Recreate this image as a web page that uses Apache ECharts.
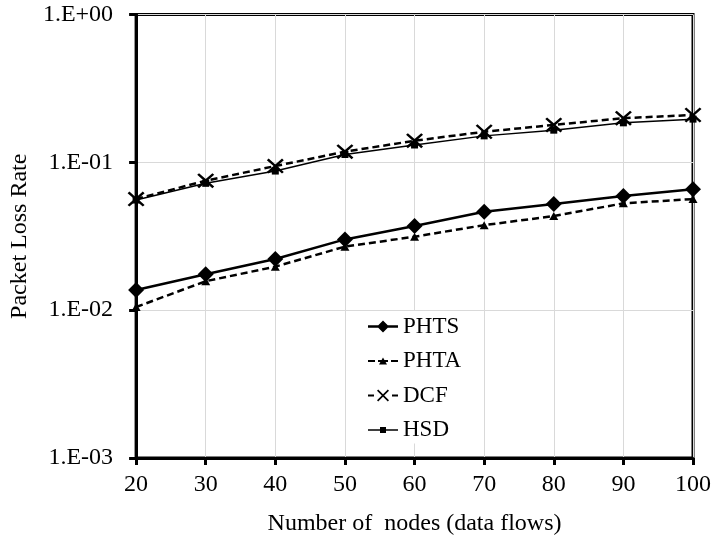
<!DOCTYPE html>
<html>
<head>
<meta charset="utf-8">
<script src="https://cdn.jsdelivr.net/npm/echarts@6/dist/echarts.min.js"></script>
<style>
  html, body { margin: 0; padding: 0; background: #fff; }
  #chart { width: 717px; height: 548px; }
</style>
</head>
<body>
<div id="chart"></div>
<script>
// Number of nodes (data flows)
const nodes = [20, 30, 40, 50, 60, 70, 80, 90, 100];

// Packet loss rate per scheme
const phts = [0.0137, 0.0175, 0.0222, 0.0301, 0.0371, 0.0463, 0.0522, 0.0591, 0.0657];
const phta = [0.0105, 0.0157, 0.0197, 0.0269, 0.0314, 0.0376, 0.0433, 0.0528, 0.0564];
const dcf  = [0.0564, 0.0751, 0.0944, 0.118, 0.140, 0.161, 0.179, 0.199, 0.209];
const hsd  = [0.0556, 0.0721, 0.0873, 0.113, 0.131, 0.151, 0.165, 0.185, 0.196];

// Y tick labels (scientific notation, spreadsheet style)
const yTickValues = [0.001, 0.01, 0.1, 1];
const yTickLabels = ['1.E-03', '1.E-02', '1.E-01', '1.E+00'];

const FONT = '"Liberation Serif", "Times New Roman", serif';
const FS = 24;

// Marker shapes
const crossSymbol = 'path://M0,1.5 L1.5,0 L7,5.5 L12.5,0 L14,1.5 L8.5,7 L14,12.5 L12.5,14 L7,8.5 L1.5,14 L0,12.5 L5.5,7 Z';

// Legend icons: short line sample with the series marker in the middle
const iconPHTS = 'path://M0,5.75 L30,5.75 L30,8.25 L0,8.25 Z M15,1 L21,7 L15,13 L9,7 Z';
const iconPHTA = 'path://M0,5.9 L7,5.9 L7,8.1 L0,8.1 Z M10,5.9 L20,5.9 L20,8.1 L10,8.1 Z M23,5.9 L30,5.9 L30,8.1 L23,8.1 Z M15,3.5 L19,10.5 L11,10.5 Z';
const iconDCF = 'path://M0,5.9 L6,5.9 L6,8.1 L0,8.1 Z M24,5.9 L30,5.9 L30,8.1 L24,8.1 Z M9,2.2 L10.2,1 L15,5.8 L19.8,1 L21,2.2 L16.2,7 L21,11.8 L19.8,13 L15,8.2 L10.2,13 L9,11.8 L13.8,7 Z';
const iconHSD = 'path://M0,6.25 L30,6.25 L30,7.75 L0,7.75 Z M12,4 L18,4 L18,10 L12,10 Z';

const pairs = arr => nodes.map((n, i) => [n, arr[i]]);

const chart = echarts.init(document.getElementById('chart'), null, { renderer: 'canvas' });

chart.setOption({
  animation: false,
  backgroundColor: '#fff',
  textStyle: { fontFamily: FONT, color: '#000' },
  grid: {
    left: 134.5, right: 24, top: 14.5, bottom: 90,
    show: true, borderColor: '#000', borderWidth: 3, backgroundColor: 'transparent'
  },
  legend: {
    orient: 'vertical',
    left: 364, top: 311,
    padding: [4, 8, 2, 4],
    backgroundColor: '#fff',
    itemWidth: 30, itemHeight: 14, itemGap: 11.5,
    symbolKeepAspect: true,
    textStyle: { fontFamily: FONT, fontSize: 23, color: '#000', lineHeight: 22 },
    itemStyle: { color: '#000', borderWidth: 0 },
    data: [
      { name: 'PHTS', icon: iconPHTS },
      { name: 'PHTA', icon: iconPHTA },
      { name: 'DCF', icon: iconDCF },
      { name: 'HSD', icon: iconHSD }
    ]
  },
  xAxis: {
    type: 'value',
    min: 20, max: 100, interval: 10,
    name: 'Number of  nodes (data flows)',
    nameLocation: 'middle', nameGap: 54,
    nameTextStyle: { fontFamily: FONT, fontSize: FS, color: '#000' },
    axisLine: { show: true, lineStyle: { color: '#000', width: 3 } },
    axisTick: { show: true, length: 7, lineStyle: { color: '#000', width: 3 } },
    axisLabel: { margin: 15, fontFamily: FONT, fontSize: FS, color: '#000' },
    splitLine: { show: true, lineStyle: { color: '#d9d9d9', width: 1 } }
  },
  yAxis: {
    type: 'log', logBase: 10,
    min: 0.001, max: 1,
    name: 'Packet Loss Rate',
    nameLocation: 'middle', nameGap: 98,
    nameTextStyle: { fontFamily: FONT, fontSize: FS, color: '#000' },
    axisLine: { show: true, lineStyle: { color: '#000', width: 3 } },
    axisTick: { show: true, length: 7, lineStyle: { color: '#000', width: 3 } },
    axisLabel: {
      margin: 23, fontFamily: FONT, fontSize: FS, color: '#000',
      formatter: v => {
        const i = yTickValues.findIndex(t => Math.abs(Math.log10(t) - Math.log10(v)) < 1e-6);
        return i >= 0 ? yTickLabels[i] : '';
      }
    },
    splitLine: { show: true, lineStyle: { color: '#d9d9d9', width: 1 } }
  },
  series: [
    {
      name: 'PHTS', type: 'line', data: pairs(phts),
      symbol: 'diamond', symbolSize: [16, 16],
      lineStyle: { color: '#000', width: 2.5, type: 'solid' },
      itemStyle: { color: '#000' }, z: 4
    },
    {
      name: 'PHTA', type: 'line', data: pairs(phta),
      symbol: 'triangle', symbolSize: [9, 8],
      lineStyle: { color: '#000', width: 2.5, type: [7, 4] },
      itemStyle: { color: '#000' }, z: 3
    },
    {
      name: 'DCF', type: 'line', data: pairs(dcf),
      symbol: crossSymbol, symbolSize: [17, 15],
      lineStyle: { color: '#000', width: 2.5, type: [7, 4] },
      itemStyle: { color: '#000' }, z: 3
    },
    {
      name: 'HSD', type: 'line', data: pairs(hsd),
      symbol: 'rect', symbolSize: 7,
      lineStyle: { color: '#000', width: 1.5, type: 'solid' },
      itemStyle: { color: '#000' }, z: 4
    }
  ]
});
</script>
</body>
</html>
